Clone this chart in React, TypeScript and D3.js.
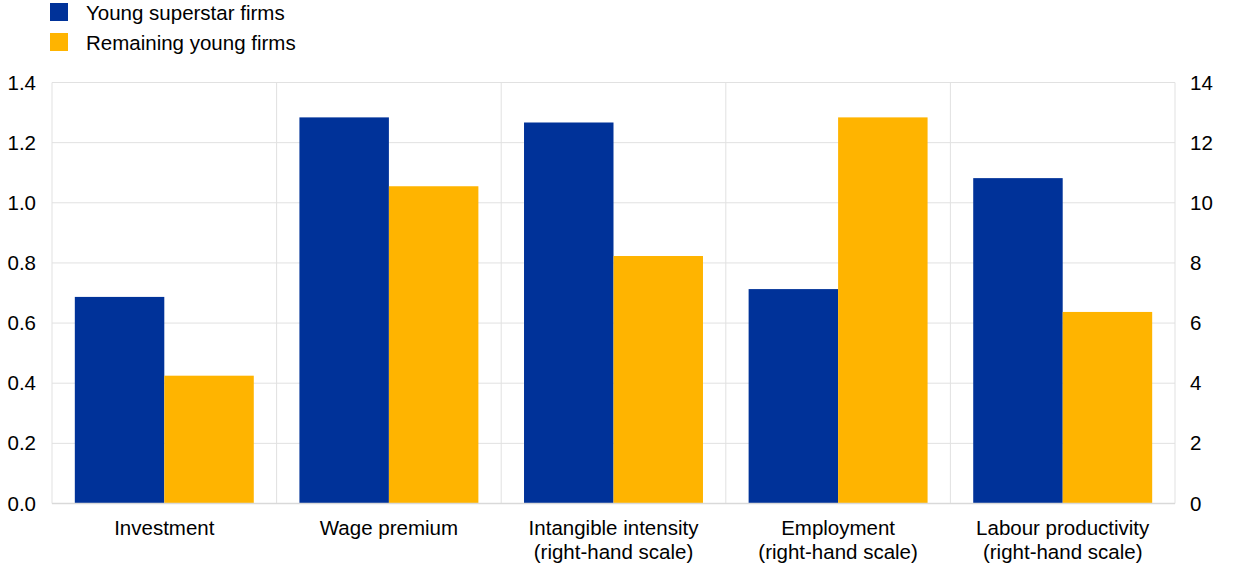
import React from "react";
import * as d3 from "d3";

const categories = [
  ["Investment"],
  ["Wage premium"],
  ["Intangible intensity", "(right-hand scale)"],
  ["Employment", "(right-hand scale)"],
  ["Labour productivity", "(right-hand scale)"],
];
const seriesNames = ["Young superstar firms", "Remaining young firms"];
const seriesColors = ["#003299", "#FFB400"];
// values on the left-hand scale for the first two, right-hand scale for the rest
const youngSuperstar = [0.687, 1.284, 12.67, 7.13, 10.82];
const remainingYoung = [0.425, 1.055, 8.23, 12.84, 6.37];
const usesRightScale = [false, false, true, true, true];
const leftTicks = [0, 0.2, 0.4, 0.6, 0.8, 1.0, 1.2, 1.4];
const rightTicks = [0, 2, 4, 6, 8, 10, 12, 14];

export default function App() {
  const W = 1240, H = 573;
  const x0 = 52, x1 = 1175, yTop = 82.5, yBot = 503.5;
  const yL = d3.scaleLinear().domain([0, 1.4]).range([yBot, yTop]);
  const yR = d3.scaleLinear().domain([0, 14]).range([yBot, yTop]);
  const xBand = d3.scaleBand<number>().domain(d3.range(categories.length)).range([x0, x1]).paddingInner(0).paddingOuter(0);
  const inner = d3.scaleBand<number>().domain([0, 1]).range([0, xBand.bandwidth()]).paddingInner(0).paddingOuter(0.255);
  const font = "'Liberation Sans', Arial, sans-serif";
  const series = [youngSuperstar, remainingYoung];
  const fs = 20.5;

  return (
    <svg width={W} height={H} style={{ position: "absolute", left: 0, top: 0 }} fontFamily={font}>
      <rect x={0} y={0} width={W} height={H} fill="#fff" />
      {/* grid */}
      {leftTicks.map((t) => (
        <line key={"g" + t} x1={x0} x2={x1} y1={yL(t)} y2={yL(t)} stroke="#e1e1e1" strokeWidth={1} />
      ))}
      {d3.range(categories.length + 1).map((i) => {
        const x = i < categories.length ? xBand(i)! : x1;
        return <line key={"v" + i} x1={x} x2={x} y1={yTop} y2={yBot} stroke="#e1e1e1" strokeWidth={1} />;
      })}
      {/* bars */}
      {series.map((vals, s) =>
        vals.map((v, i) => {
          const ys = usesRightScale[i] ? yR : yL;
          const bx = xBand(i)! + inner(s)!;
          return (
            <rect key={s + "-" + i} x={bx} y={ys(v)} width={inner.bandwidth()} height={yBot - ys(v)} fill={seriesColors[s]} />
          );
        })
      )}
      <line x1={x0} x2={x1} y1={yBot} y2={yBot} stroke="#d9d9d9" strokeWidth={1.5} />
      {/* left axis */}
      {leftTicks.map((t) => (
        <text key={"l" + t} x={36} y={yL(t) + 7} fontSize={fs} textAnchor="end" fill="#000">
          {t.toFixed(1)}
        </text>
      ))}
      {/* right axis */}
      {rightTicks.map((t) => (
        <text key={"r" + t} x={1190} y={yR(t) + 7} fontSize={fs} textAnchor="start" fill="#000">
          {t}
        </text>
      ))}
      {/* category labels */}
      {categories.map((lines, i) => (
        <text key={"c" + i} x={xBand(i)! + xBand.bandwidth() / 2} y={535} fontSize={fs} textAnchor="middle" fill="#000">
          {lines.map((l, j) => (
            <tspan key={j} x={xBand(i)! + xBand.bandwidth() / 2} dy={j === 0 ? 0 : 24}>
              {l}
            </tspan>
          ))}
        </text>
      ))}
      {/* legend */}
      {seriesNames.map((n, s) => (
        <g key={n}>
          <rect x={50} y={3 + s * 30} width={18} height={18} fill={seriesColors[s]} />
          <text x={86} y={19.5 + s * 30} fontSize={fs} fill="#000">
            {n}
          </text>
        </g>
      ))}
    </svg>
  );
}
